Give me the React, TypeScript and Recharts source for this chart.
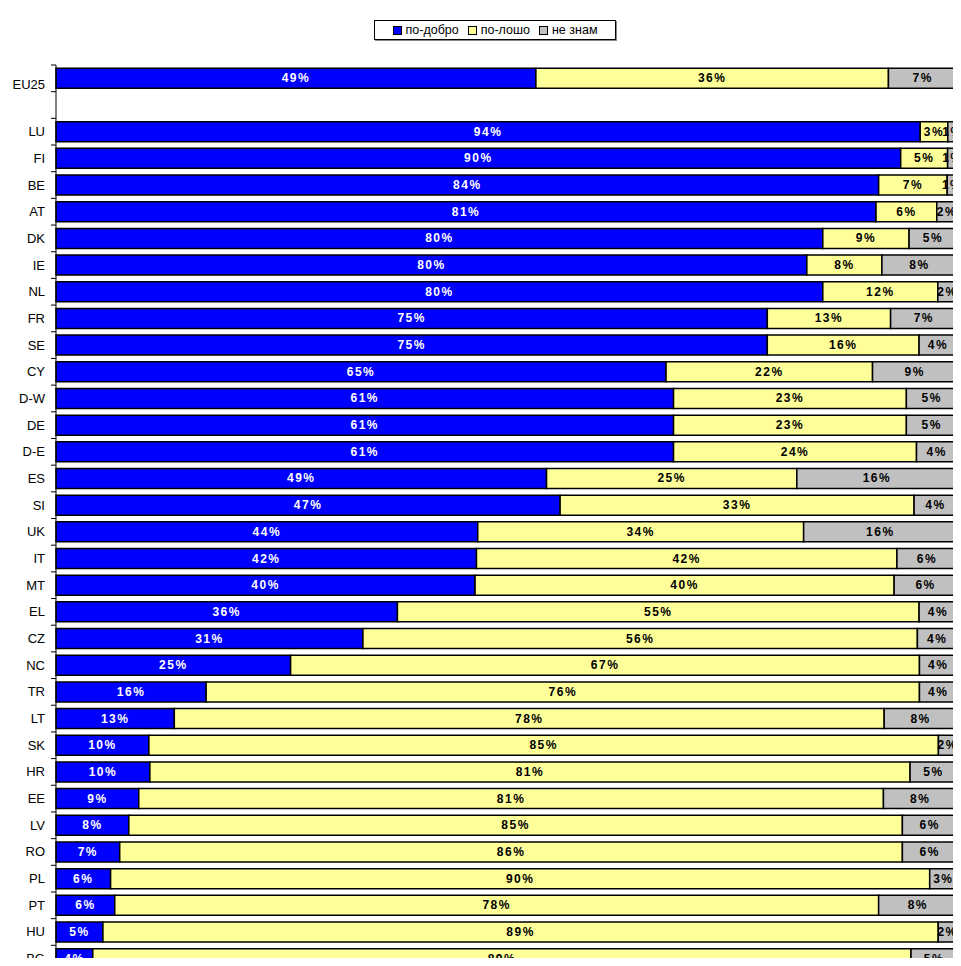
import React from 'react';
import { BarChart, Bar, XAxis, YAxis } from 'recharts';

const categories = [
    'EU25', '', 'LU', 'FI', 'BE', 'AT', 'DK', 'IE', 'NL', 'FR', 'SE', 'CY', 'D-W', 'DE', 'D-E', 'ES', 'SI',
    'UK', 'IT', 'MT', 'EL', 'CZ', 'NC', 'TR', 'LT', 'SK', 'HR', 'EE', 'LV', 'RO', 'PL', 'PT', 'HU', 'BG',
];
const better = [49, null, 94, 90, 84, 81, 80, 80, 80, 75, 75, 65, 61, 61, 61, 49, 47, 44, 42, 40, 36, 31, 25, 16, 13, 10, 10, 9, 8, 7, 6, 6, 5, 4];
const worse = [36, null, 3, 5, 7, 6, 9, 8, 12, 13, 16, 22, 23, 23, 24, 25, 33, 34, 42, 40, 55, 56, 67, 76, 78, 85, 81, 81, 85, 86, 90, 78, 89, 89];
const dontKnow = [7, null, 1, 1, 1, 2, 5, 8, 2, 7, 4, 9, 5, 5, 4, 16, 4, 16, 6, 6, 4, 4, 4, 4, 8, 2, 5, 8, 6, 6, 3, 8, 2, 5];

const seriesNames = ['по-добро', 'по-лошо', 'не знам'];
const seriesColors = ['#0000FF', '#FFFF99', '#C0C0C0'];

const chartData = categories.map((name, i) => ({
    name,
    better: better[i],
    worse: worse[i],
    dontKnow: dontKnow[i],
}));

const CHART_W = 953;
const CHART_H = 980;
const MARGIN = { top: 57, right: 4, bottom: 16, left: 0 };
const BAND = (CHART_H - MARGIN.top - MARGIN.bottom) / categories.length;
const TICK_SIZE = 5;
const TICK_MARGIN = 6;

// recharts skips empty rows when it hands out label indexes, so index the non-null values
const makeLabel = (values: (number | null)[], color: string) => {
    const shown = values.filter(v => v !== null);
    return (props: any) => {
        const { x, y, width, height, index } = props;
        const v = shown[index];
        if (v === null || v === undefined) return null;
        return (
            <text
                x={x + width / 2}
                y={y + height / 2}
                textAnchor="middle"
                dominantBaseline="central"
                fill={color}
                fontSize={12}
                fontWeight="bold"
                letterSpacing={1.5}
                fontFamily="Liberation Sans, Arial, sans-serif"
            >
                {v}%
            </text>
        );
    };
};

const CategoryTick = (props: any) => {
    const { x, y, payload } = props;
    const axisX = x + TICK_SIZE + TICK_MARGIN;
    const label = payload.value as string;
    return (
        <g>
            <line x1={axisX - TICK_SIZE} x2={axisX} y1={y - BAND / 2} y2={y - BAND / 2} stroke="#000" />
            <text
                x={x}
                y={y + (label === 'EU25' ? 6 : 0)}
                textAnchor="end"
                dominantBaseline="central"
                fontSize={13}
                fill="#000"
                fontFamily="Liberation Sans, Arial, sans-serif"
            >
                {label}
            </text>
        </g>
    );
};

const LegendBox = () => (
    <div
        style={{
            position: 'absolute',
            top: 12,
            left: 366,
            width: 242,
            height: 20,
            boxSizing: 'border-box',
            display: 'flex',
            alignItems: 'center',
            justifyContent: 'center',
            gap: 9,
            border: '1px solid #000',
            fontFamily: 'Liberation Sans, Arial, sans-serif',
            fontSize: 12.5,
            background: '#fff',
            boxShadow: '1px 1px 0 #888',
        }}
    >
        {seriesNames.map((n, i) => (
            <span key={n} style={{ display: 'inline-flex', alignItems: 'center', gap: 4 }}>
                <span
                    style={{
                        display: 'inline-block',
                        width: 7,
                        height: 7,
                        background: seriesColors[i],
                        border: '1px solid #000',
                    }}
                />
                {n}
            </span>
        ))}
    </div>
);

export default function App() {
    return (
        <div style={{ position: 'relative', width: CHART_W, height: 958, marginBottom: -8, overflow: 'hidden' }}>
            <BarChart
                width={CHART_W}
                height={CHART_H}
                data={chartData}
                layout="vertical"
                stackOffset="expand"
                margin={MARGIN}
                barCategoryGap="12.5%"
            >
                <XAxis type="number" hide domain={[0, 1]} />
                <YAxis
                    type="category"
                    dataKey="name"
                    width={48}
                    interval={0}
                    tickLine={false}
                    tickSize={TICK_SIZE}
                    tickMargin={TICK_MARGIN}
                    axisLine={{ stroke: '#000' }}
                    tick={<CategoryTick />}
                />
                <Bar dataKey="better" stackId="a" fill={seriesColors[0]} stroke="#000" strokeWidth={1.5}
                    isAnimationActive={false} label={makeLabel(better, '#fff')} />
                <Bar dataKey="worse" stackId="a" fill={seriesColors[1]} stroke="#000" strokeWidth={1.5}
                    isAnimationActive={false} label={makeLabel(worse, '#000')} />
                <Bar dataKey="dontKnow" stackId="a" fill={seriesColors[2]} stroke="#000" strokeWidth={1.5}
                    isAnimationActive={false} label={makeLabel(dontKnow, '#000')} />
            </BarChart>
            <LegendBox />
        </div>
    );
}
